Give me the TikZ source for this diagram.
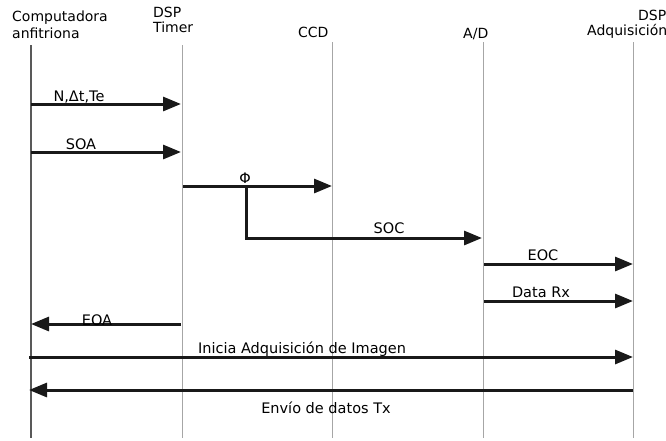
\documentclass[tikz,border=0pt]{standalone}
\usepackage{fontspec}
\setmainfont{DejaVu Sans}
\usetikzlibrary{arrows.meta}
\begin{document}
\begin{tikzpicture}[x=1pt,y=-1pt,
  life/.style={draw=black!35, line width=1pt},
  lifemain/.style={draw=black!65, line width=1.8pt},
  msg/.style={draw=black!90, line width=3pt, -{Triangle[length=18pt,width=14pt]}},
  hdr/.style={font=\fontsize{14}{16}\selectfont, inner sep=0pt, anchor=base west},
  lbl/.style={font=\fontsize{14.5}{16}\selectfont, inner sep=0pt, anchor=base},
]
\useasboundingbox (0,0) rectangle (666,440);
% lifelines
\coordinate (L1t) at (31,45);  \coordinate (L1b) at (31,438);
\coordinate (L2t) at (182,45); \coordinate (L2b) at (182,438);
\coordinate (L3t) at (332,42); \coordinate (L3b) at (332,438);
\coordinate (L4t) at (483,42); \coordinate (L4b) at (483,438);
\coordinate (L5t) at (633,42); \coordinate (L5b) at (633,438);
\draw[lifemain] (L1t) -- (L1b);
\draw[life] (L2t) -- (L2b);
\draw[life] (L3t) -- (L3b);
\draw[life] (L4t) -- (L4b);
\draw[life] (L5t) -- (L5b);
% headers
\node[hdr] (h1a) at (12,21) {Computadora};
\node[hdr] (h1b) at (12,38) {anfitriona};
\node[hdr] (h2a) at (153,17) {DSP};
\node[hdr] (h2b) at (153,32) {Timer};
\node[hdr] (h3) at (298,37) {CCD};
\node[hdr] (h4) at (463,38) {A/D};
\node[hdr] (h5a) at (638,20) {DSP};
\node[hdr] (h5b) at (587,35) {Adquisición};
% messages
\coordinate (m1s) at (31,104);  \coordinate (m1e) at (181,104);
\draw[msg] (m1s) -- (m1e);
\node[lbl] (t1) at (79,101) {N,Δt,Te};
\coordinate (m2s) at (31,152);  \coordinate (m2e) at (181,152);
\draw[msg] (m2s) -- (m2e);
\node[lbl] (t2) at (81,149) {SOA};
\coordinate (m3s) at (183,186); \coordinate (m3e) at (332,186);
\draw[msg] (m3s) -- (m3e);
\node[lbl] (t3) at (245,183) {Φ};
\coordinate (m4s) at (246,186); \coordinate (m4k) at (246,238); \coordinate (m4e) at (482,238);
\draw[msg] (m4s) -- (m4k) -- (m4e);
\node[lbl] (t4) at (389,233) {SOC};
\coordinate (m5s) at (484,264); \coordinate (m5e) at (633,264);
\draw[msg] (m5s) -- (m5e);
\node[lbl] (t5) at (543,260) {EOC};
\coordinate (m6s) at (484,301); \coordinate (m6e) at (633,301);
\draw[msg] (m6s) -- (m6e);
\node[lbl] (t6) at (541,297) {Data Rx};
\coordinate (m7s) at (181,324); \coordinate (m7e) at (31,324);
\draw[msg] (m7s) -- (m7e);
\node[lbl] (t7) at (97,325) {EOA};
\coordinate (m8s) at (29,357); \coordinate (m8e) at (633,357);
\draw[msg] (m8s) -- (m8e);
\node[lbl] (t8) at (302,353) {Inicia Adquisición de Imagen};
\coordinate (m9s) at (633,390); \coordinate (m9e) at (29,390);
\draw[msg] (m9s) -- (m9e);
\node[lbl] (t9) at (326,413) {Envío de datos Tx};
\end{tikzpicture}
\end{document}
